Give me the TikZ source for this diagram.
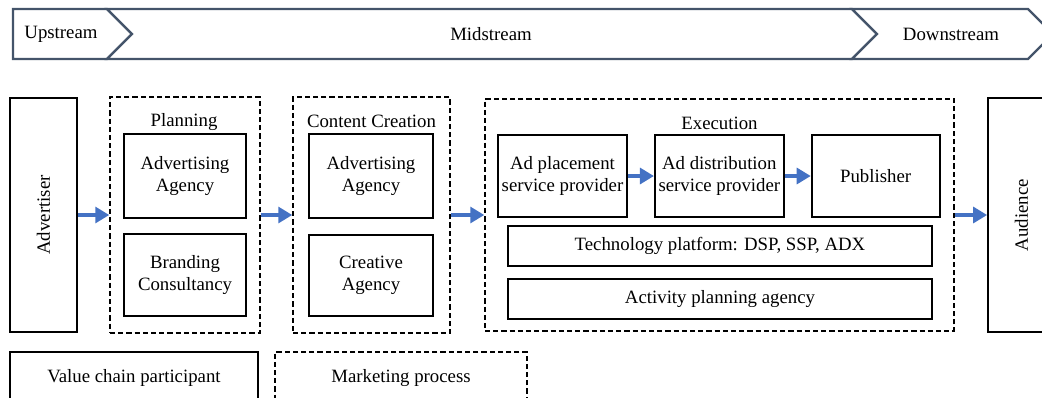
\documentclass[tikz,border=0pt]{standalone}
\usepackage{fontspec}
\setmainfont{Liberation Serif}
\usetikzlibrary{arrows.meta, positioning}
\definecolor{chevron_line}{RGB}{68,84,106}
\definecolor{flow_blue}{RGB}{68,114,196}
\tikzstyle{actor_node} = [rectangle, draw=black, line width=0.9pt, align=center, text centered, inner sep=0pt]
\tikzstyle{stage_box} = [rectangle, draw=black, line width=0.75pt, dash pattern=on 2.6pt off 1.5pt, align=center]
\tikzstyle{stage_label} = [inner sep=0pt]
\tikzstyle{chevron_shape} = [draw=chevron_line, line width=1.1pt, fill=white, line join=miter]
\tikzstyle{flow_arrow} = [draw=flow_blue, line width=1.6pt, -{Triangle[length=7pt, width=8pt]}]

\begin{document}
\begin{tikzpicture}[x=0.5pt, y=-0.5pt, font=\fontsize{9.4}{11}\selectfont]
\clip (0,0) rectangle (1042,397);

% header: upstream / midstream / downstream
\draw [chevron_shape] (13,9) -- (107,9) -- (132,34) -- (107,59) -- (13,59) -- cycle;
\draw [chevron_shape] (107,9) -- (852,9) -- (877,34) -- (852,59) -- (107,59) -- (132,34) -- cycle;
\draw [chevron_shape] (852,9) -- (1028,9) -- (1053,34) -- (1028,59) -- (852,59) -- (877,34) -- cycle;
\node (upstream) [stage_label] at (61,34) {Upstream};
\node (midstream) [stage_label] at (491,34) {Midstream};
\node (downstream) [stage_label] at (951,34) {Downstream};

\node (advertiser) [actor_node, rotate=90, minimum width=117pt, minimum height=33.5pt] at (43.5,215) {Advertiser};

\node (planning) [stage_box, minimum width=75pt, minimum height=118pt] at (185,215) {};
\node (planning_title) [stage_label] at (184,122) {Planning};
\node (plan_agency) [actor_node, minimum width=61pt, minimum height=42pt] at (185,176) {Advertising\\Agency};
\node (plan_brand) [actor_node, minimum width=61pt, minimum height=41pt, below=7pt of plan_agency] {Branding\\Consultancy};

\node (content) [stage_box, minimum width=78.5pt, minimum height=118pt] at (371.5,215) {};
\node (content_title) [stage_label] at (371.5,121) {Content Creation};
\node (cc_agency) [actor_node, minimum width=62pt, minimum height=42pt] at (371,176) {Advertising\\Agency};
\node (cc_creative) [actor_node, minimum width=62pt, minimum height=40.5pt, below=7.5pt of cc_agency] {Creative\\Agency};

\node (execution) [stage_box, minimum width=234.5pt, minimum height=116pt] at (719.5,215) {};
\node (execution_title) [stage_label] at (719.5,123) {Execution};
\node (placement) [actor_node, minimum width=64.5pt, minimum height=41pt] at (562.5,176) {Ad placement\\service provider};
\node (distribution) [actor_node, minimum width=64.5pt, minimum height=41pt, right=13pt of placement] {Ad distribution\\service provider};
\node (publisher) [actor_node, minimum width=64pt, minimum height=41pt, right=13pt of distribution] {Publisher};
\node (tech_platform) [actor_node, minimum width=212pt, minimum height=20pt] at (720,246) {Technology platform: DSP, SSP, ADX};
\node (activity) [actor_node, minimum width=212pt, minimum height=20pt, below=5.5pt of tech_platform] {Activity planning agency};

\node (audience) [actor_node, rotate=90, minimum width=117pt, minimum height=33.5pt] at (1021.5,215) {Audience};

% legend
\node (legend_actor) [actor_node, minimum width=124pt, minimum height=26pt] at (134,378) {Value chain participant};
\node (legend_stage) [stage_box, minimum width=126pt, minimum height=26pt] at (401,378) {Marketing process};

\draw [flow_arrow] (advertiser) -- (planning);
\draw [flow_arrow] (planning) -- (content);
\draw [flow_arrow] (content) -- (execution);
\draw [flow_arrow] (execution) -- (audience);
\draw [flow_arrow] (placement) -- (distribution);
\draw [flow_arrow] (distribution) -- (publisher);
\end{tikzpicture}
\end{document}
